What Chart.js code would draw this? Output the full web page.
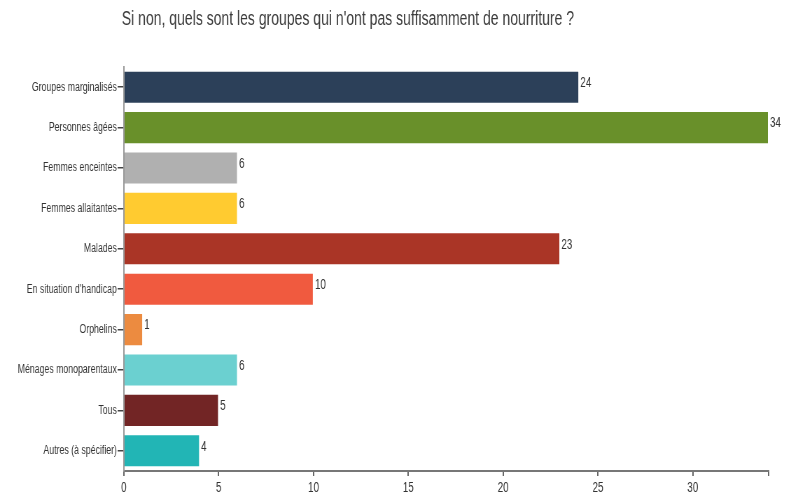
<!DOCTYPE html>
<html>
<head>
<meta charset="utf-8">
<script src="https://cdn.jsdelivr.net/npm/chart.js@4/dist/chart.umd.min.js"></script>
<style>
  html, body { margin: 0; padding: 0; background: #fff; overflow: hidden; }
  /* the original is horizontally condensed, so draw wider and squeeze */
  #wrap { width: 1124px; height: 499px; position: relative; transform: scaleX(0.7); transform-origin: 0 0; }
</style>
</head>
<body>
<div id="wrap"><canvas id="chart"></canvas></div>
<script>
const title = "Si non, quels sont les groupes qui n'ont pas suffisamment de nourriture ?"
const categories = [
  "Groupes marginalisés",
  "Personnes âgées",
  "Femmes enceintes",
  "Femmes allaitantes",
  "Malades",
  "En situation d'handicap",
  "Orphelins",
  "Ménages monoparentaux",
  "Tous",
  "Autres (à spécifier)",
]
const counts = [24, 34, 6, 6, 23, 10, 1, 6, 5, 4]
const barColors = [
  "#2c4059", "#69902a", "#b0b0b0", "#ffcb30", "#aa3526",
  "#f05a3f", "#ec8b40", "#6bd0d0", "#722525", "#22b5b5",
]
const xMax = 34

const FONT = "'Liberation Sans', Arial, sans-serif"

// title drawn from the left edge of the plot, like the original
const titlePlugin = {
  id: "leftTitle",
  afterDraw(chart) {
    const ctx = chart.ctx
    ctx.save()
    ctx.font = "20px " + FONT
    ctx.fillStyle = "#3a3a3a"
    ctx.textAlign = "left"
    ctx.textBaseline = "middle"
    ctx.fillText(title, chart.chartArea.left - 3, 19)
    ctx.restore()
  },
}

// value next to the end of each bar
const valuePlugin = {
  id: "barValues",
  afterDatasetsDraw(chart) {
    const ctx = chart.ctx
    const meta = chart.getDatasetMeta(0)
    ctx.save()
    ctx.font = "14px " + FONT
    ctx.fillStyle = "#333"
    ctx.textAlign = "left"
    ctx.textBaseline = "middle"
    meta.data.forEach((bar, i) => {
      ctx.fillText(counts[i], bar.x + 2, bar.y - 4)
    })
    ctx.restore()
  },
}

new Chart(document.getElementById("chart"), {
  type: "bar",
  data: {
    labels: categories,
    datasets: [
      {
        data: counts,
        backgroundColor: barColors,
        borderColor: "rgba(255,255,255,0.55)",
        borderWidth: 1,
        barPercentage: 0.82,
        categoryPercentage: 1,
      },
    ],
  },
  options: {
    indexAxis: "y",
    responsive: true,
    maintainAspectRatio: false,
    animation: false,
    layout: { padding: { top: 67, right: 26, left: 0, bottom: 0 } },
    plugins: {
      legend: { display: false },
      tooltip: { enabled: false },
    },
    scales: {
      x: {
        min: 0,
        max: xMax,
        afterFit: (s) => { s.height = 28 },
        ticks: {
          stepSize: 5,
          color: "#333",
          font: { family: FONT, size: 14 },
          padding: 4,
          callback: (v) => (v % 5 === 0 ? v : ""),
        },
        grid: { drawOnChartArea: false, tickLength: 5, color: "#666", lineWidth: 2 },
        border: { color: "#777", width: 2 },
      },
      y: {
        afterFit: (s) => { s.width = 177 },
        ticks: {
          color: "#333",
          font: { family: FONT, size: 12.5 },
          padding: 1,
        },
        grid: { drawOnChartArea: false, offset: false, tickLength: 9, color: "#444", lineWidth: 1.5 },
        border: { color: "#999", width: 2 },
      },
    },
  },
  plugins: [titlePlugin, valuePlugin],
})
</script>
</body>
</html>
